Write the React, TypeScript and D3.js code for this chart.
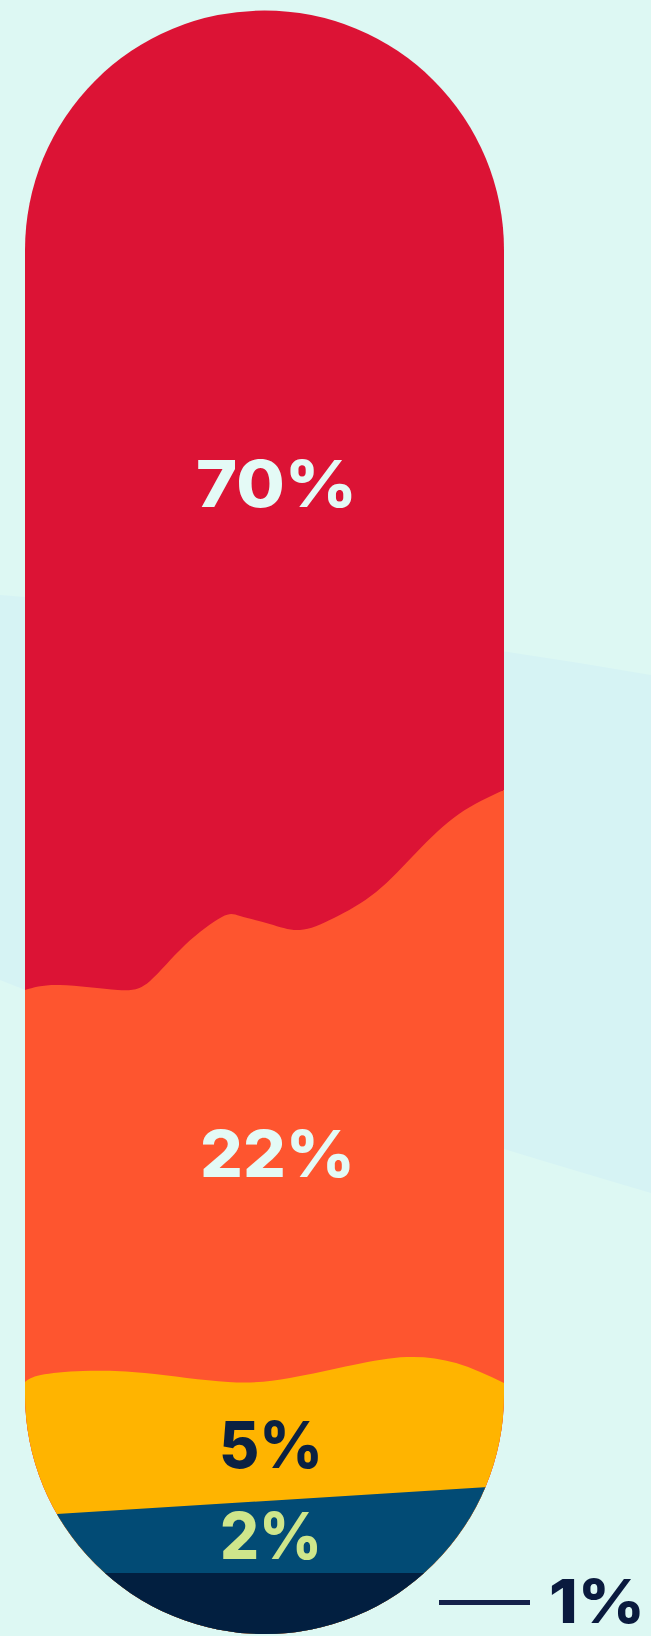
import React, { useLayoutEffect, useRef, useState } from 'react';
import * as d3 from 'd3';

// ---------- data ----------
const categories = ['Segment A', 'Segment B', 'Segment C', 'Segment D', 'Segment E'];
const values = [70, 22, 5, 2, 1];
const labels = ['70%', '22%', '5%', '2%', '1%'];
const fillColors = ['#DC1335', '#FE552F', '#FFB400', '#024B75', '#021F40'];
const labelColors = ['#E4FAF6', '#E4FAF6', '#0B2142', '#CFE68B', '#0A1A3E'];

// decorative wavy boundaries between the stacked segments
// (u = position across the pill 0..1, v = layout height)
const wave1U = [0, 0.073, 0.194, 0.261, 0.334, 0.411, 0.449, 0.511, 0.574, 0.645, 0.733, 0.818, 0.906, 1];
const wave1V = [990, 985, 990, 981, 945, 917, 916, 924, 930, 918, 892, 852, 814, 790];
const wave2U = [0, 0.033, 0.121, 0.25, 0.424, 0.553, 0.685, 0.797, 0.9, 1];
const wave2V = [1382, 1375, 1371, 1373, 1382, 1378, 1365, 1357, 1363, 1383];
const wave3U = [0, 1];
const wave3V = [1516, 1486];
const wave4U = [0, 1];
const wave4V = [1573, 1573];

const W = 651;
const H = 1636;

export default function App() {
  const left = 25;
  const right = 504;
  const top = 10.5;
  const bottom = 1634;
  const r = (right - left) / 2;
  const cx = (left + right) / 2;

  const x = d3.scaleLinear().domain([0, 1]).range([left, right]);
  const y = d3.scaleLinear().domain([0, H]).range([0, H]);

  const pill = d3.path();
  pill.moveTo(left, top + r);
  pill.arc(cx, top + r, r, Math.PI, 2 * Math.PI);
  pill.lineTo(right, bottom - r);
  pill.arc(cx, bottom - r, r, 0, Math.PI);
  pill.closePath();

  const boundaries = [
    { u: wave1U, v: wave1V, curve: d3.curveNatural },
    { u: wave2U, v: wave2V, curve: d3.curveNatural },
    { u: wave3U, v: wave3V, curve: d3.curveLinear },
    { u: wave4U, v: wave4V, curve: d3.curveLinear },
  ];

  const layerPaths = values.map((_, i) => {
    if (i === 0) return `M${left - 5},0H${right + 5}V${H}H${left - 5}Z`;
    const b = boundaries[i - 1];
    const pts: [number, number][] = b.u.map((uu, k) => [uu, b.v[k]]);
    const area = d3
      .area<[number, number]>()
      .x((d) => x(d[0]))
      .y0(y(H))
      .y1((d) => y(d[1]))
      .curve(b.curve);
    const d = area(pts) as string;
    const yl = y(b.v[0]);
    const yr = y(b.v[b.v.length - 1]);
    const side = `M${left - 6},${yl}H${left + 1}V${H}H${left - 6}Z M${right - 1},${yr}H${right + 6}V${H}H${right - 1}Z`;
    return d + side;
  });

  // label layout: anchor x, baseline, target advance width, anchor type
  const labelBox = [
    { ax: 276.5, y: 507, w: 161, anchor: 'middle' },
    { ax: 277.5, y: 1177, w: 155, anchor: 'middle' },
    { ax: 271, y: 1468, w: 104, anchor: 'middle' },
    { ax: 271, y: 1559, w: 102, anchor: 'middle' },
    { ax: 645, y: 1623, w: 96, anchor: 'end' },
  ];

  const refs = useRef<(SVGTextElement | null)[]>([]);
  const [scales, setScales] = useState<number[]>(labels.map(() => 1));

  useLayoutEffect(() => {
    const measure = () => {
      const next = refs.current.map((el, i) => {
        if (!el) return 1;
        const bb = el.getBBox();
        return bb.width > 0 ? labelBox[i].w / bb.width : 1;
      });
      setScales(next);
    };
    measure();
    const fonts = (document as any).fonts;
    if (fonts && fonts.ready) fonts.ready.then(measure);
  }, []);

  return (
    <svg
      width={W}
      height={H}
      viewBox={`0 0 ${W} ${H}`}
      style={{ position: 'absolute', left: 0, top: 0, display: 'block' }}
      fontFamily="Inter, 'Open Sans', sans-serif"
    >
      <rect x={0} y={0} width={W} height={H} fill="#DDF8F3" />
      <path d={`M0,595 Q330,620 ${W},675 L${W},1193 Q200,1060 0,980 Z`} fill="#D6F3F4" />
      <defs>
        <clipPath id="pillClip">
          <path d={pill.toString()} />
        </clipPath>
      </defs>
      <g clipPath="url(#pillClip)">
        {layerPaths.map((d, i) => (
          <path key={categories[i]} d={d} fill={fillColors[i]} />
        ))}
      </g>
      <line x1={439} x2={530} y1={1602.5} y2={1602.5} stroke="#15224A" strokeWidth={5} />
      {labels.map((t, i) => (
        <g key={t} transform={`translate(${labelBox[i].ax},${labelBox[i].y}) scale(${scales[i]},1)`}>
          <text
            ref={(el) => {
              refs.current[i] = el;
            }}
            x={0}
            y={0}
            textAnchor={labelBox[i].anchor as any}
            fontSize={labelBox[i].anchor === 'end' ? 60 : 64}
            fontWeight={800}
            fill={labelColors[i]}
          >
            {t}
          </text>
        </g>
      ))}
    </svg>
  );
}
